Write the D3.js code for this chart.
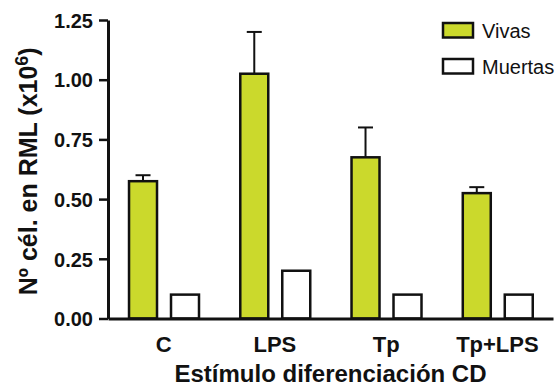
<!DOCTYPE html>
<html>
<head>
<meta charset="utf-8">
<script src="https://cdn.jsdelivr.net/npm/d3@7"></script>
<style>
  body { margin: 0; background: #fff; }
  svg { display: block; font-family: "Liberation Sans", Arial, Helvetica, sans-serif; }
</style>
</head>
<body>
<div id="chart"></div>
<script>
// data
const categories = ["C", "LPS", "Tp", "Tp+LPS"];
const series = ["Vivas", "Muertas"];
const vivas = [0.575, 1.025, 0.675, 0.525];
const vivasErr = [0.025, 0.175, 0.125, 0.025];
const muertas = [0.10, 0.20, 0.10, 0.10];
const yTicks = [0, 0.25, 0.5, 0.75, 1.0, 1.25];

const W = 554, H = 389;
const margin = {top: 20, right: 1, bottom: 70.5, left: 108};
const width = W - margin.left - margin.right,
      height = H - margin.top - margin.bottom;

const green = "#cbd92c";
const colors = {Vivas: green, Muertas: "#ffffff"};

const svg = d3.select("#chart").append("svg")
    .attr("width", W)
    .attr("height", H);

const g = svg.append("g")
    .attr("transform", `translate(${margin.left},${margin.top})`);

// scales
const x = d3.scaleBand()
    .domain(categories)
    .range([0, width])
    .padding(0);

const bw = x.bandwidth();
const xInner = d3.scaleBand()
    .domain(series)
    .range([bw * 0.189, bw * 0.818])
    .paddingInner(1 / 3);

const y = d3.scaleLinear()
    .domain([0, 1.25])
    .range([height, 0]);

const rows = categories.map((c, i) => ({
    cat: c,
    bars: [
        {key: "Vivas", value: vivas[i], err: vivasErr[i]},
        {key: "Muertas", value: muertas[i], err: null}
    ]
}));

// bars
const groups = g.selectAll(".grp")
    .data(rows)
    .enter().append("g")
    .attr("class", "grp")
    .attr("transform", d => `translate(${x(d.cat)},0)`);

// error bars (drawn first, bar covers the base)
groups.each(function(d) {
    const sel = d3.select(this);
    d.bars.filter(b => b.err !== null).forEach(b => {
        const cx = xInner(b.key) + xInner.bandwidth() / 2;
        sel.append("line")
            .attr("x1", cx).attr("x2", cx)
            .attr("y1", y(b.value)).attr("y2", y(b.value + b.err))
            .attr("stroke", "#111").attr("stroke-width", 2);
        sel.append("line")
            .attr("x1", cx - 7.5).attr("x2", cx + 7.5)
            .attr("y1", y(b.value + b.err)).attr("y2", y(b.value + b.err))
            .attr("stroke", "#111").attr("stroke-width", 2);
    });
});

groups.selectAll("rect")
    .data(d => d.bars)
    .enter().append("rect")
    .attr("x", d => xInner(d.key))
    .attr("width", xInner.bandwidth())
    .attr("y", d => y(d.value))
    .attr("height", d => y(0) - y(d.value))
    .attr("fill", d => colors[d.key])
    .attr("stroke", "#111")
    .attr("stroke-width", 2.5);

// y axis
const yAxis = g.append("g")
    .call(d3.axisLeft(y).tickValues(yTicks).tickFormat(d3.format(".2f")).tickSize(9).tickSizeOuter(0));
yAxis.select(".domain").attr("stroke", "#111").attr("stroke-width", 3);
yAxis.selectAll(".tick line").attr("stroke", "#111").attr("stroke-width", 2.5);
yAxis.selectAll(".tick text")
    .attr("x", -15)
    .attr("dy", "0.36em")
    .attr("fill", "#111")
    .style("font-size", "20px")
    .style("font-weight", "bold")
    .style("font-family", "'Liberation Sans', Arial, sans-serif");

// x axis: plain line, labels under each group
const xAxis = g.append("g")
    .attr("transform", `translate(0,${height})`)
    .call(d3.axisBottom(x).tickSize(0).tickSizeOuter(0));
xAxis.select(".domain").attr("stroke", "#111").attr("stroke-width", 3);
xAxis.selectAll(".tick text")
    .attr("y", 33)
    .attr("dy", 0)
    .attr("fill", "#111")
    .style("font-size", "22px")
    .style("font-weight", "bold")
    .style("font-family", "'Liberation Sans', Arial, sans-serif");

// axis titles
svg.append("text")
    .attr("x", margin.left + width / 2)
    .attr("y", 382)
    .attr("text-anchor", "middle")
    .attr("fill", "#111")
    .style("font-size", "24px")
    .style("font-weight", "bold")
    .text("Estímulo diferenciación CD");

const yTitle = svg.append("text")
    .attr("transform", `translate(37,${margin.top + height / 2 + 2}) rotate(-90)`)
    .attr("text-anchor", "middle")
    .attr("fill", "#111")
    .style("font-size", "25px")
    .style("font-weight", "bold");
yTitle.append("tspan").text("Nº cél. en RML (x10");
yTitle.append("tspan").attr("dy", -9).style("font-size", "18px").text("6");
yTitle.append("tspan").attr("dy", 9).text(")");

// legend
const legend = svg.append("g")
    .attr("transform", "translate(443,23)");
series.forEach((s, i) => {
    const row = legend.append("g").attr("transform", `translate(0,${i * 36})`);
    row.append("rect")
        .attr("width", 30).attr("height", 14.5)
        .attr("fill", colors[s])
        .attr("stroke", "#111").attr("stroke-width", 2.5);
    row.append("text")
        .attr("x", 39).attr("y", 15)
        .attr("fill", "#111")
        .style("font-size", "20px")
        .text(s);
});
</script>
</body>
</html>
